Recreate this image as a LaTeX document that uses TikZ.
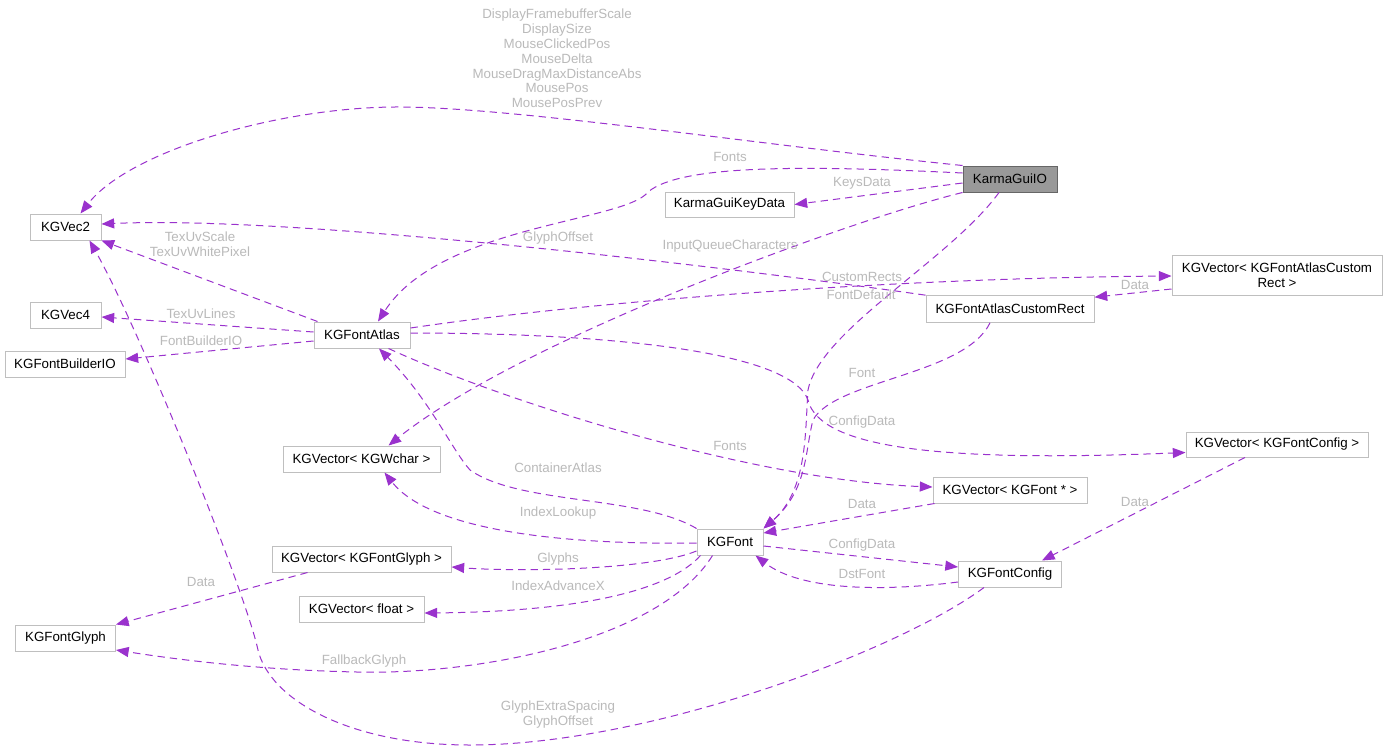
\documentclass[tikz,border=0pt]{standalone}
\usepackage{fontspec}
\setmainfont{Liberation Sans}
\usetikzlibrary{arrows.meta,calc}
\definecolor{edgec}{HTML}{9A32CD}
\definecolor{nodeb}{HTML}{BFBFBF}
\definecolor{lblc}{HTML}{BABABA}
\definecolor{iofill}{HTML}{999999}
\definecolor{iodraw}{HTML}{666666}
\begin{document}
\begin{tikzpicture}[x=0.75pt,y=-0.75pt,
  cls/.style={draw=nodeb, fill=white, line width=0.75pt, font=\fontsize{10}{11.5}\selectfont,
    inner sep=0pt, minimum height=19.5pt, align=center},
  hl/.style={cls, draw=iodraw, fill=iofill},
  rel/.style={draw=edgec, line width=0.75pt, dash pattern=on 5.5pt off 3.75pt,
    -{Triangle[length=9.5pt,width=7.5pt]}},
  lbl/.style={text=lblc, font=\fontsize{10}{11.1}\selectfont, inner sep=0pt, align=center}]
\fill[white] (0,0) rectangle (1387,750);
\useasboundingbox (0,0) rectangle (1387,750);

% nodes
\node[hl, minimum width=70.5pt] (io) at (1010,179) {KarmaGuiIO};
\node[cls, minimum width=96.75pt, minimum height=18.75pt] (keydata) at (729.5,204.5) {KarmaGuiKeyData};
\node[cls, minimum width=53.25pt] (vec2) at (65.5,227) {KGVec2};
\node[cls, minimum width=53.25pt] (vec4) at (65.5,315) {KGVec4};
\node[cls, minimum width=90pt] (builderio) at (65,364) {KGFontBuilderIO};
\node[cls, minimum width=72pt] (atlas) at (362,335) {KGFontAtlas};
\node[cls, minimum width=75pt] (fontglyph) at (65.5,638) {KGFontGlyph};
\node[cls, minimum width=117.75pt] (wchar) at (361.5,459) {KGVector< KGWchar >};
\node[cls, minimum width=134.25pt] (glyphvec) at (361.5,559) {KGVector< KGFontGlyph >};
\node[cls, minimum width=93.75pt] (floatvec) at (361.5,609) {KGVector< float >};
\node[cls, minimum width=49.5pt] (font) at (730,542) {KGFont};
\node[cls, minimum width=115.5pt] (fontvec) at (1010,490) {KGVector< KGFont * >};
\node[cls, minimum width=77.25pt] (fontconfig) at (1010,574) {KGFontConfig};
\node[cls, minimum width=136.5pt, minimum height=18.75pt] (fontconfigvec) at (1277,444.5) {KGVector< KGFontConfig >};
\node[cls, minimum width=126pt, minimum height=20pt] (customrect) at (1010,309) {KGFontAtlasCustomRect};
\node[cls, minimum width=157.5pt, minimum height=30pt] (customrectvec) at (1277,275) {KGVector< KGFontAtlasCustom\\Rect >};

% edges
\draw[rel] (io.north west) .. controls (760,145) and (520,108) .. (402,107)
   .. controls (284,106) and (130,150) .. ($(vec2.north)+(15,0)$);
\draw[rel] ($(io.west)+(0,-6)$) .. controls (800,165) and (680,165) .. (648,192)
   .. controls (625,222) and (440,225) .. ($(atlas.north)+(16,0)$);
\draw[rel] ($(io.west)+(0,4)$) -- (keydata.east);
\draw[rel] (io.south west) .. controls (850,220) and (520,340) .. ($(wchar.north)+(27,0)$);
\draw[rel] ($(io.south)+(-11,0)$) .. controls (950,260) and (820,330) .. (808,390)
   .. controls (805,430) and (808,490) .. (font.north east);
\draw[rel] ($(customrect.south)+(-20,0)$) .. controls (965,375) and (835,380) .. (813,420)
   .. controls (805,450) and (808,490) .. (font.north east);
\draw[rel] (customrect.north west) .. controls (750,270) and (300,215) .. ($(vec2.east)+(0,-3)$);
\draw[rel] ($(atlas.east)+(0,-7)$) .. controls (600,300) and (900,278) .. ($(customrectvec.west)+(0,1)$);
\draw[rel] ($(customrectvec.west)+(0,14)$) -- ($(customrect.north east)+(0,2)$);
\draw[rel] ($(atlas.north west)+(4,0)$) -- (vec2.south east);
\draw[rel] ($(atlas.west)+(0,-3)$) -- ($(vec4.east)+(0,2)$);
\draw[rel] ($(atlas.west)+(0,6)$) -- ($(builderio.east)+(0,-5)$);
\draw[rel] ($(atlas.south east)+(-22,0)$) .. controls (500,400) and (750,480) .. ($(fontvec.west)+(0,-3)$);
\draw[rel] ($(atlas.east)+(0,-2)$) .. controls (600,333) and (790,350) .. (808,400)
   .. controls (820,450) and (950,462) .. ($(fontconfigvec.west)+(0,8)$);
\draw[rel] (font.north west) .. controls (640,495) and (520,505) .. (470,470)
   .. controls (452,450) and (430,400) .. ($(atlas.south)+(17,0)$);
\draw[rel] ($(font.west)+(0,1)$) .. controls (560,545) and (430,530) .. ($(wchar.south)+(23,0)$);
\draw[rel] ($(font.west)+(0,9)$) .. controls (650,570) and (520,572) .. ($(glyphvec.east)+(0,8)$);
\draw[rel] ($(font.south west)+(4,0)$) .. controls (660,600) and (540,612) .. ($(floatvec.east)+(0,4)$);
\draw[rel] ($(font.south west)+(16,0)$) .. controls (660,640) and (480,675) .. (357,672)
   .. controls (260,670) and (180,660) .. ($(fontglyph.east)+(0,12)$);
\draw[rel] ($(fontvec.south west)+(2,0)$) -- ($(font.east)+(0,-9)$);
\draw[rel] ($(font.east)+(0,4)$) -- ($(fontconfig.west)+(0,-7)$);
\draw[rel] ($(fontconfig.west)+(0,8)$) .. controls (880,592) and (800,590) .. ($(font.south east)+(-8,0)$);
\draw[rel] ($(fontconfigvec.south)+(-32,0)$) -- ($(fontconfig.north east)+(-20,0)$);
\draw[rel] ($(glyphvec.south west)+(36,0)$) -- (fontglyph.north east);
\draw[rel] ($(fontconfig.south west)+(26,0)$) .. controls (900,650) and (650,745) .. (470,745)
   .. controls (350,745) and (270,700) .. (258,650)
   .. controls (245,590) and (140,330) .. ($(vec2.south)+(24,0)$);

% labels
\node[lbl] (l1) at (557,58.5) {DisplayFramebufferScale\\DisplaySize\\MouseClickedPos\\MouseDelta\\MouseDragMaxDistanceAbs\\MousePos\\MousePosPrev};
\node[lbl] (l2) at (730,157) {Fonts};
\node[lbl] (l3) at (862,183) {KeysData};
\node[lbl] (l4) at (730,246) {InputQueueCharacters};
\node[lbl] (l5) at (861,295) {FontDefault};
\node[lbl] (l6) at (558,238) {GlyphOffset};
\node[lbl] (l7) at (862,277) {CustomRects};
\node[lbl] (l8) at (1135,285) {Data};
\node[lbl] (l9) at (200,244.5) {TexUvScale\\TexUvWhitePixel};
\node[lbl] (l10) at (201,314) {TexUvLines};
\node[lbl] (l11) at (201,341) {FontBuilderIO};
\node[lbl] (l12) at (730,446) {Fonts};
\node[lbl] (l13) at (862,422) {ConfigData};
\node[lbl] (l14) at (862,373) {Font};
\node[lbl] (l15) at (558,468) {ContainerAtlas};
\node[lbl] (l16) at (558,513) {IndexLookup};
\node[lbl] (l17) at (558,559) {Glyphs};
\node[lbl] (l18) at (558,586) {IndexAdvanceX};
\node[lbl] (l19) at (364,661) {FallbackGlyph};
\node[lbl] (l20) at (862,504) {Data};
\node[lbl] (l21) at (862,545) {ConfigData};
\node[lbl] (l22) at (862,574) {DstFont};
\node[lbl] (l23) at (1135,502) {Data};
\node[lbl] (l24) at (201,582) {Data};
\node[lbl] (l25) at (558,714.5) {GlyphExtraSpacing\\GlyphOffset};
\end{tikzpicture}
\end{document}
